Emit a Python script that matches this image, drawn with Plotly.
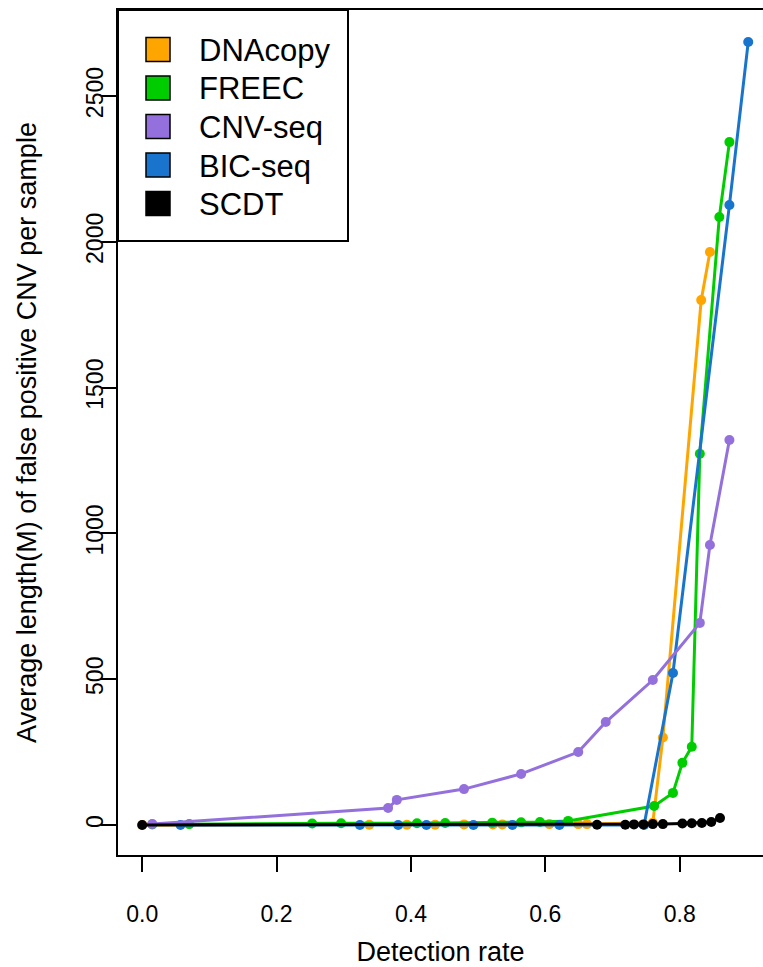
import plotly.graph_objects as go

methods = ["DNAcopy", "FREEC", "CNV-seq", "BIC-seq", "SCDT"]
colors = ["#FFA500", "#00CD00", "#9370DB", "#1874CD", "#000000"]

dnacopy_x = [0.0, 0.338, 0.394, 0.436, 0.479, 0.522, 0.536, 0.606, 0.649, 0.662, 0.760, 0.775, 0.832, 0.845]
dnacopy_y = [0, 1, 1, 1, 2, 2, 2, 3, 3, 3, 8, 300, 1800, 1965]

freec_x = [0.015, 0.070, 0.253, 0.296, 0.409, 0.451, 0.521, 0.564, 0.592, 0.634, 0.762, 0.790, 0.804, 0.818, 0.830, 0.859, 0.874]
freec_y = [2, 3, 5, 6, 6, 7, 8, 9, 10, 14, 65, 110, 213, 268, 1273, 2085, 2342]

cnvseq_x = [0.015, 0.366, 0.379, 0.479, 0.564, 0.649, 0.690, 0.760, 0.830, 0.845, 0.874]
cnvseq_y = [3, 58, 86, 123, 175, 250, 353, 497, 693, 960, 1320]

bicseq_x = [0.057, 0.324, 0.381, 0.423, 0.493, 0.551, 0.621, 0.747, 0.790, 0.874, 0.902]
bicseq_y = [0, 0, 0, 0, 0, 0, 0, 0, 521, 2126, 2685]

scdt_x = [0.0, 0.677, 0.719, 0.732, 0.746, 0.760, 0.775, 0.804, 0.818, 0.833, 0.847, 0.860]
scdt_y = [0, 1, 1, 2, 2, 3, 3, 5, 6, 7, 10, 24]

x_ticks = [0.0, 0.2, 0.4, 0.6, 0.8]
x_ticklabels = ["0.0", "0.2", "0.4", "0.6", "0.8"]
y_ticks = [0, 500, 1000, 1500, 2000, 2500]
y_ticklabels = ["0", "500", "1000", "1500", "2000", "2500"]

series = {
    "DNAcopy": (dnacopy_x, dnacopy_y),
    "FREEC": (freec_x, freec_y),
    "CNV-seq": (cnvseq_x, cnvseq_y),
    "BIC-seq": (bicseq_x, bicseq_y),
    "SCDT": (scdt_x, scdt_y),
}
draw_order = ["DNAcopy", "FREEC", "BIC-seq", "CNV-seq", "SCDT"]
color_of = dict(zip(methods, colors))

FONT = "Liberation Sans, Arial, sans-serif"
W, H = 763, 967
ML, MR, MT, MB = 118, 0, 10, 112
PW, PH = W - ML - MR, H - MT - MB


def px_x(px):
    return (px - ML) / PW


def px_y(py):
    return (H - MB - py) / PH


fig = go.Figure()
for name in draw_order:
    xs, ys = series[name]
    fig.add_trace(go.Scatter(
        x=xs, y=ys, mode="lines+markers", name=name, showlegend=False,
        line=dict(color=color_of[name], width=3),
        marker=dict(color=color_of[name], size=10),
        cliponaxis=True,
        # last series sits on the label-carrying overlay axis (same scale)
        yaxis="y2" if name == "SCDT" else "y",
    ))

# R-style legend box with filled squares
shapes = [dict(type="rect", xref="paper", yref="paper",
               x0=px_x(ML), x1=px_x(348), y0=px_y(241), y1=px_y(MT),
               line=dict(color="black", width=2), fillcolor="white", layer="above")]
annotations = []
row0, row_step = 49.5, 38.5
for i, name in enumerate(methods):
    cy = row0 + i * row_step
    shapes.append(dict(type="rect", xref="paper", yref="paper",
                       x0=px_x(146), x1=px_x(170), y0=px_y(cy + 12), y1=px_y(cy - 12),
                       line=dict(color="black", width=1.5), fillcolor=color_of[name],
                       layer="above"))
    annotations.append(dict(xref="paper", yref="paper", x=px_x(197), y=px_y(cy + 1),
                            text=name, showarrow=False, xanchor="left", yanchor="middle",
                            font=dict(family=FONT, size=31, color="black")))

fig.update_layout(
    width=W, height=H,
    margin=dict(l=ML, r=MR, t=MT, b=MB, autoexpand=False),
    paper_bgcolor="white", plot_bgcolor="white",
    font=dict(family=FONT, color="black", size=23),
    showlegend=False,
    shapes=shapes,
    annotations=annotations,
    xaxis=dict(
        range=[-0.036, 0.924], showgrid=False, zeroline=False,
        showline=True, linecolor="black", linewidth=2, mirror=True,
        ticks="outside", ticklen=15, tickwidth=1.5, tickcolor="black",
        tickvals=x_ticks, ticktext=x_ticklabels,
        tickfont=dict(size=23), ticklabelstandoff=22,
        title=dict(text="Detection rate", font=dict(size=27), standoff=18),
        automargin=False,
    ),
    yaxis=dict(
        range=[-103, 2795], showgrid=False, zeroline=False,
        showline=True, linecolor="black", linewidth=2, mirror=False,
        ticks="outside", ticklen=15, tickwidth=1.5, tickcolor="black",
        tickvals=y_ticks, showticklabels=False,
        automargin=False,
    ),
    yaxis2=dict(
        overlaying="y", side="left", matches="y",
        range=[-103, 2795], showgrid=False, zeroline=False, showline=False,
        ticks="", tickvals=y_ticks, ticktext=y_ticklabels, tickangle=-90,
        tickfont=dict(size=23), ticklabelstandoff=9,
        title=dict(text="Average length(M) of false positive CNV per sample",
                   font=dict(size=27), standoff=37),
        automargin=False,
    ),
)

fig.write_html("out.html")
